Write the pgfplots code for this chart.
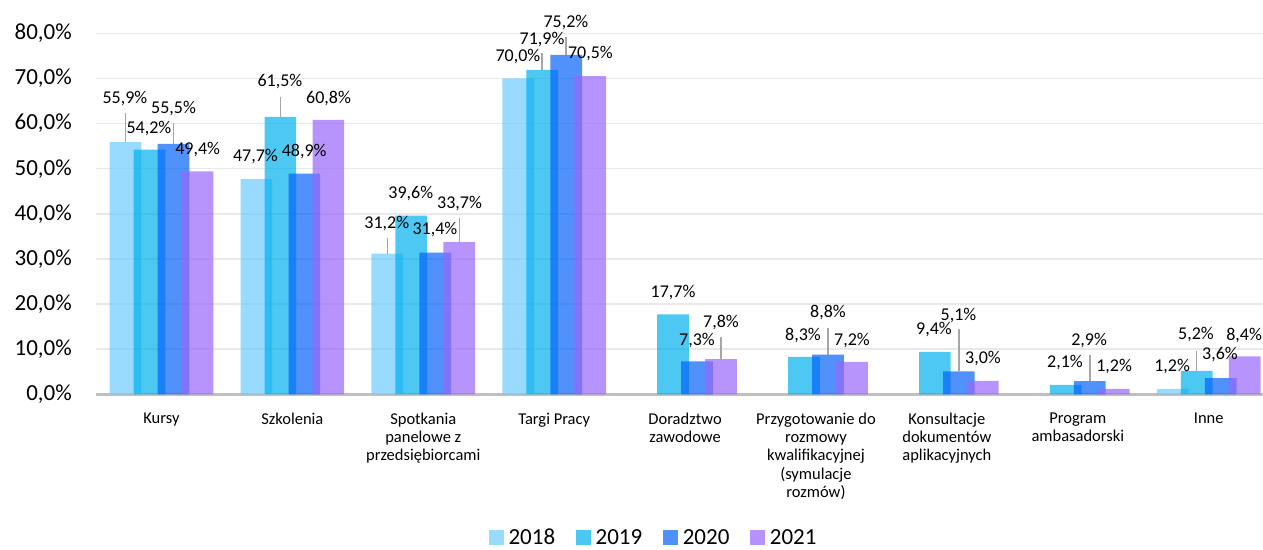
\documentclass[border=0pt]{standalone}
\usepackage{pgfplots}
\pgfplotsset{compat=1.18}
\usepackage{fontspec}
\setmainfont{Carlito}
\definecolor{c18}{HTML}{6DCCFE}
\definecolor{c19}{HTML}{00B0EE}
\definecolor{c20}{HTML}{0562FB}
\definecolor{c21}{HTML}{9866FB}
\definecolor{gridc}{HTML}{E9E9E9}
\definecolor{axc}{HTML}{BFBFBF}
\definecolor{leadc}{HTML}{A6A6A6}
\newcommand{\lblfont}{\fontsize{18}{21}\selectfont}
\newcommand{\lbl}[3]{\node[font=\lblfont,inner sep=0pt,text=black] at (axis cs:#1,#2) {#3};}
\newcommand{\ldr}[3]{\draw[draw=leadc,line width=1.5pt] (axis cs:#1,#2) -- (axis cs:#1,#3);}
\begin{document}
\begin{tikzpicture}[x=1pt,y=1pt]
\path[use as bounding box] (0,0) rectangle (1263,549);
\begin{axis}[
  at={(96pt,154.7pt)}, anchor=south west,
  scale only axis, width=1167pt, height=361pt,
  xmin=-0.5, xmax=8.415, ymin=0, ymax=80,
  clip=false,
  ybar, bar width=31.7pt,
  axis lines*=left, axis line style={-},
  y axis line style={draw=none},
  x axis line style={draw=axc, line width=2.5pt},
  ymajorgrids, grid style={draw=gridc, line width=1.5pt},
  ytick={0,10,...,80},
  xtick={0,...,8},
  tick style={draw=none},
  yticklabel={\pgfmathprintnumber[fixed,fixed zerofill,precision=1,use comma,assume math mode=true]{\tick}\%},
  yticklabel style={font=\fontsize{23}{27}\selectfont, anchor=east, inner sep=0pt, xshift=-24pt},
  xticklabels={Kursy, Szkolenia, {Spotkania\\panelowe z\\przedsiębiorcami}, Targi Pracy, {Doradztwo\\zawodowe}, {Przygotowanie do\\rozmowy\\kwalifikacyjnej\\(symulacje\\rozmów)}, {Konsultacje\\dokumentów\\aplikacyjnych}, {Program\\ambasadorski}, Inne},
  xticklabel style={font=\fontsize{16.5}{18.3}\selectfont, align=center, anchor=north, inner sep=0pt, yshift=-14pt},
  legend columns=4,
  legend image code/.code={\fill[#1] (0pt,-7.25pt) rectangle (14.5pt,7.25pt);},
  legend style={at={(0.4771,-0.3967)}, anchor=center, draw=none, font=\fontsize{23}{27}\selectfont,
    nodes={inner sep=0pt},
    /tikz/every odd column/.append style={column sep=5pt},
    /tikz/every even column/.append style={column sep=21pt}},
]
\addplot[fill=c18, fill opacity=0.7, draw=none, bar shift=-36pt] coordinates {(0,55.9) (1,47.7) (2,31.2) (3,70.0) (8,1.2)};
\addplot[fill=c19, fill opacity=0.7, draw=none, bar shift=-12pt] coordinates {(0,54.2) (1,61.5) (2,39.6) (3,71.9) (4,17.7) (5,8.3) (6,9.4) (7,2.1) (8,5.2)};
\addplot[fill=c20, fill opacity=0.7, draw=none, bar shift=12pt] coordinates {(0,55.5) (1,48.9) (2,31.4) (3,75.2) (4,7.3) (5,8.8) (6,5.1) (7,2.9) (8,3.6)};
\addplot[fill=c21, fill opacity=0.7, draw=none, bar shift=36pt] coordinates {(0,49.4) (1,60.8) (2,33.7) (3,70.5) (4,7.8) (5,7.2) (6,3.0) (7,1.2) (8,8.4)};
\legend{2018,2019,2020,2021}
% leader lines
\ldr{-0.275}{62.34}{55.9}
\ldr{0.0917}{60.12}{55.5}
\ldr{0.9083}{65.95}{61.5}
\ldr{1.725}{34.70}{31.2}
\ldr{2.275}{39.0}{33.7}
\ldr{2.908}{75.63}{71.9}
\ldr{3.092}{79.18}{75.2}
\ldr{4.275}{12.72}{7.8}
\ldr{5.092}{14.69}{8.8}
\ldr{6.092}{14.47}{5.1}
\ldr{7.092}{8.71}{2.9}
\ldr{7.908}{9.60}{5.2}
% data labels
\lbl{-0.279}{65.44}{55,9\%}
\lbl{-0.0955}{59.01}{54,2\%}
\lbl{0.092}{63.38}{55,5\%}
\lbl{0.277}{54.14}{49,4\%}
\lbl{0.718}{52.65}{47,7\%}
\lbl{0.905}{69.27}{61,5\%}
\lbl{1.090}{53.76}{48,9\%}
\lbl{1.276}{65.44}{60,8\%}
\lbl{1.721}{37.89}{31,2\%}
\lbl{1.905}{44.54}{39,6\%}
\lbl{2.089}{36.41}{31,4\%}
\lbl{2.277}{42.17}{33,7\%}
\lbl{2.723}{74.75}{70,0\%}
\lbl{2.907}{78.52}{71,9\%}
\lbl{3.090}{82.35}{75,2\%}
\lbl{3.277}{75.41}{70,5\%}
\lbl{3.908}{22.45}{17,7\%}
\lbl{4.091}{12.03}{7,3\%}
\lbl{4.274}{15.80}{7,8\%}
\lbl{4.901}{13.14}{8,3\%}
\lbl{5.092}{18.02}{8,8\%}
\lbl{5.275}{12.03}{7,2\%}
\lbl{5.901}{14.25}{9,4\%}
\lbl{6.089}{17.57}{5,1\%}
\lbl{6.276}{8.04}{3,0\%}
\lbl{6.902}{6.94}{2,1\%}
\lbl{7.086}{11.81}{2,9\%}
\lbl{7.277}{6.05}{1,2\%}
\lbl{7.720}{6.05}{1,2\%}
\lbl{7.903}{13.14}{5,2\%}
\lbl{8.086}{8.71}{3,6\%}
\lbl{8.270}{13.14}{8,4\%}
\end{axis}
\end{tikzpicture}
\end{document}
